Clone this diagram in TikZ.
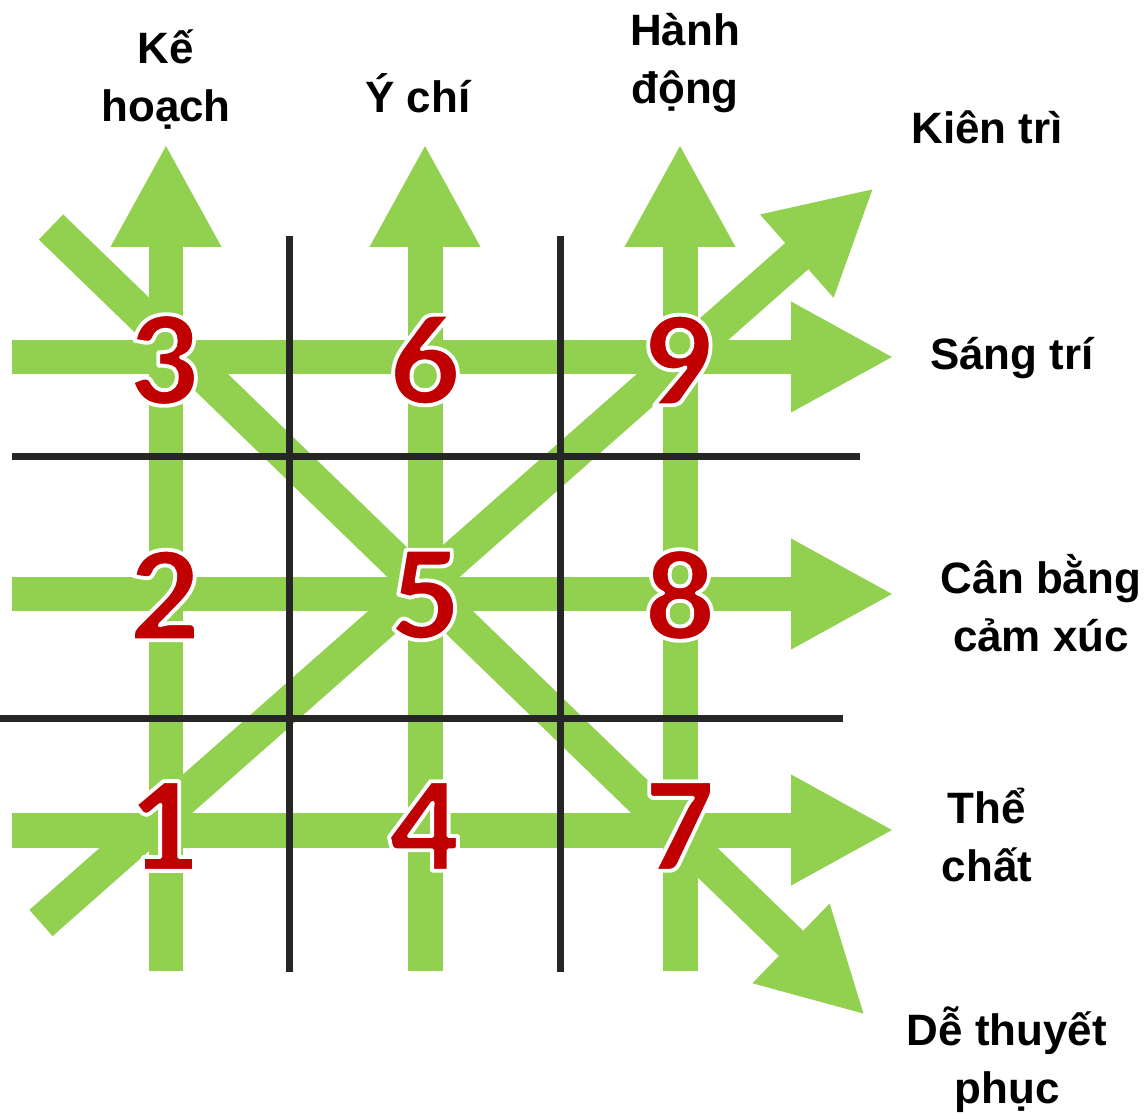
\documentclass[tikz,border=0pt]{standalone}
\usepackage{fontspec}
\setmainfont{Liberation Sans}
\newfontfamily\heavyfont{Lato Black}
\usetikzlibrary{arrows.meta}
\definecolor{leaf}{HTML}{92D050}
\definecolor{numred}{HTML}{C00000}
\definecolor{gridgray}{HTML}{262626}
% white rim round the red numbers (fill + stroke text)
\newcommand{\rimmed}[1]{\special{pdf:literal direct 1 j 2.2 w 1 1 1 RG 2 Tr}#1\special{pdf:literal direct 0 Tr}}
\tikzset{
  green arrow/.style={draw=leaf, line width=0.7cm, -{Triangle[width=2.06cm,length=2.06cm]}},
  grid line/.style={draw=gridgray, line width=0.14cm},
  digit/.style={text=numred, font=\heavyfont\fontsize{70}{70}\selectfont, inner sep=0pt},
  trait/.style={font=\bfseries\fontsize{25}{33}\selectfont, align=center, inner sep=0pt}
}

\begin{document}
\begin{tikzpicture}[x=0.02cm, y=-0.02cm]
  \useasboundingbox (0,0) rectangle (1145,1114);
  % Arrow ends
  \foreach \i/\x in {1/166,2/425,3/680}{
    \coordinate (foot\i) at (\x,971);
    \coordinate (head\i) at (\x,144);
  }
  \foreach \i/\y in {1/357,2/594,3/830}{
    \coordinate (tail\i) at (12,\y);
    \coordinate (tip\i) at (894,\y);
  }
  \coordinate (sw) at (41,923);
  \coordinate (ne) at (874,188);
  \coordinate (nw) at (51,227);
  \coordinate (se) at (865,1015);
  % Draw green arrows
  \foreach \i in {1,2,3}{
    \draw[green arrow] (foot\i) -- (head\i);
    \draw[green arrow] (tail\i) -- (tip\i);
  }
  \draw[green arrow] (sw) -- (ne);
  \draw[green arrow] (nw) -- (se);
  % Grid lines
  \coordinate (vt1) at (289,236);
  \coordinate (vb1) at (289,972);
  \coordinate (vt2) at (560,236);
  \coordinate (vb2) at (560,972);
  \coordinate (hl1) at (12,456);
  \coordinate (hr1) at (860,456);
  \coordinate (hl2) at (0,718);
  \coordinate (hr2) at (843,718);
  \draw[grid line] (vt1) -- (vb1);
  \draw[grid line] (vt2) -- (vb2);
  \draw[grid line] (hl1) -- (hr1);
  \draw[grid line] (hl2) -- (hr2);
  % Numbers
  \foreach \c/\x in {0/165,1/425,2/680}{
    \foreach \r/\y in {1/826,2/595,3/360}{
      \pgfmathtruncatemacro{\n}{3*\c+\r}
      \node[digit] (n\n) at (\x,\y) {\rimmed{\n}};
    }
  }
  % Labels
  \node[trait] (plan) at (166,80) {Kế\\hoạch};
  \node[trait] (will) at (418,93) {Ý chí};
  \node[trait] (act) at (685,63) {Hành\\động};
  \node[trait] (persist) at (987,127) {Kiên trì};
  \node[trait] (wise) at (1012,358) {Sáng trí};
  \node[trait] (calm) at (1041,603) {Cân bằng\\cảm xúc};
  \node[trait] (body) at (987,835) {Thể\\chất};
  \node[trait] (persuade) at (1007,1060) {Dễ thuyết\\phục};
\end{tikzpicture}
\end{document}
